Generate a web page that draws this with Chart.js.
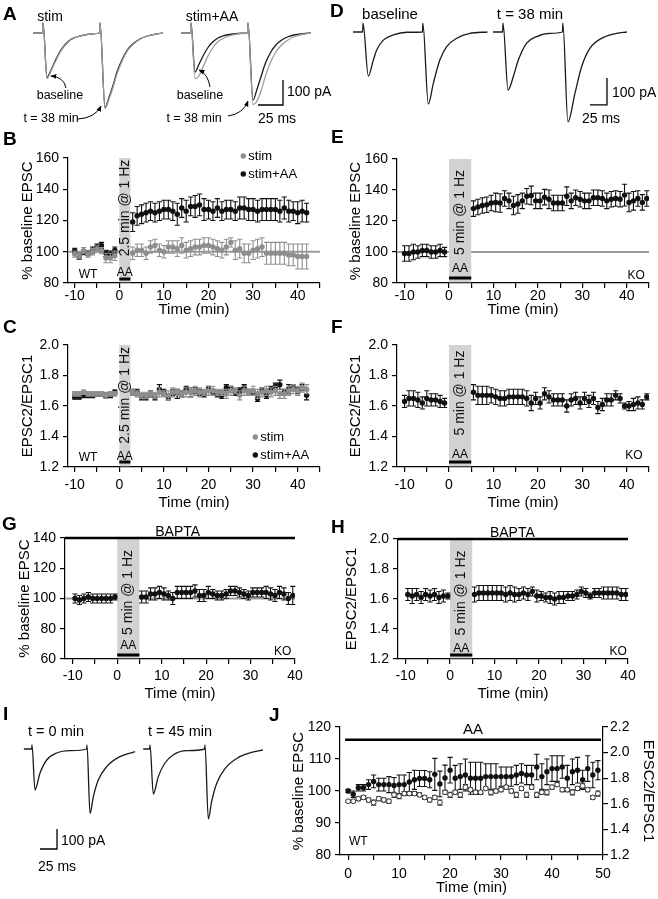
<!DOCTYPE html>
<html><head><meta charset="utf-8"><title>Figure</title>
<script src="https://cdn.jsdelivr.net/npm/chart.js@4.4.1/dist/chart.umd.min.js"></script>
<style>
html,body{margin:0;padding:0;background:#fff;}
#fig{position:relative;width:658px;height:899px;overflow:hidden;font-family:"Liberation Sans",Arial,Helvetica,sans-serif;color:#000;}
#charts canvas{position:absolute;}
.pl{position:absolute;font-weight:bold;font-size:19px;line-height:19px;}
.tx{position:absolute;line-height:1;white-space:nowrap;transform:translate(-50%,-50%);}
.tl{position:absolute;line-height:1;white-space:nowrap;transform:translate(0,-50%);}
svg{position:absolute;left:0;top:0;}
</style></head><body><div id="fig">
<div id="charts"></div>
<svg width="658" height="899">
<defs><marker id="ah" viewBox="0 0 10 10" refX="9" refY="5" markerWidth="6" markerHeight="6" orient="auto"><path d="M0,1 L10,5 L0,9 z" fill="#000"/></marker></defs>
<path d="M66,88 Q64,77 51,76" fill="none" stroke="#000" stroke-width="1" marker-end="url(#ah)"/>
<path d="M78,119 Q95,118 101,106" fill="none" stroke="#000" stroke-width="1" marker-end="url(#ah)"/>
<path d="M210,87 Q208,74 199,70" fill="none" stroke="#000" stroke-width="1" marker-end="url(#ah)"/>
<path d="M228,116 Q243,114 248,101" fill="none" stroke="#000" stroke-width="1" marker-end="url(#ah)"/>
</svg>
<div class="pl" style="left:3px;top:4px">A</div>
<div class="pl" style="left:330px;top:1px">D</div>
<div class="pl" style="left:3px;top:129px">B</div>
<div class="pl" style="left:331px;top:127px">E</div>
<div class="pl" style="left:3px;top:317px">C</div>
<div class="pl" style="left:331px;top:317px">F</div>
<div class="pl" style="left:2px;top:514px">G</div>
<div class="pl" style="left:331px;top:517px">H</div>
<div class="pl" style="left:3px;top:704px">I</div>
<div class="pl" style="left:269px;top:705px">J</div>

<div class="tx" style="left:50px;top:16px;font-size:14px">stim</div>
<div class="tx" style="left:212px;top:16px;font-size:14px">stim+AA</div>
<div class="tx" style="left:60px;top:95px;font-size:12.5px">baseline</div>
<div class="tx" style="left:51px;top:118px;font-size:12.5px">t = 38 min</div>
<div class="tx" style="left:200px;top:95px;font-size:12.5px">baseline</div>
<div class="tx" style="left:194px;top:118px;font-size:12.5px">t = 38 min</div>
<div class="tl" style="left:287px;top:91px;font-size:14px">100 pA</div>
<div class="tx" style="left:277px;top:118px;font-size:14px">25 ms</div>

<div class="tx" style="left:390px;top:13px;font-size:15px">baseline</div>
<div class="tx" style="left:530px;top:13px;font-size:15px">t = 38 min</div>
<div class="tl" style="left:612px;top:92px;font-size:14px">100 pA</div>
<div class="tx" style="left:601px;top:118px;font-size:14px">25 ms</div>

<div class="tx" style="left:56px;top:731px;font-size:14.5px">t = 0 min</div>
<div class="tx" style="left:180px;top:731px;font-size:14.5px">t = 45 min</div>
<div class="tl" style="left:61px;top:840px;font-size:14px">100 pA</div>
<div class="tx" style="left:57px;top:866px;font-size:14px">25 ms</div>
</div>
<script>
// ================= DATA =================
// Panel B / C (WT): time points (min)
const bTime = [-10,-9,-8,-7,-6,-5,-4,-3,-2,-1,3,4,5,6,7,8,9,10,11,12,13,14,15,16,17,18,19,20,21,22,23,24,25,26,27,28,29,30,31,32,33,34,35,36,37,38,39,40,41,42];
const bStim = [98.5,97.4,100.7,98.5,100,101.8,100.7,96,96,97.4,
  99,101,101,99,103,104,101,100,103,103,
  102,104,101,102,103,103,104,104,103,102,
  101,103,106,101,102,99,99,101,102,103,
  99,99,99,99,99,98,98,97,97,97];
const bStimErr = [2,2,2,2,2,2,2,3,3,3,
  4,4,4,4,4,4,4,4,4,4, 5,5,5,5,5,5,5,5,5,5, 5,5,3,6,6,6,6,6,6,6, 7,7,7,7,7,7,7,8,8,8];
const bStimAA = [100.7,97,99.6,99,101,103,104,99,98.5,101,
  119,123,124,125,126,125,126,127,127,126,
  124,128,126,129,129,130,127,127,126,128,
  126,127,127,126,128,128,127,127,126,127,
  127,127,127,126,128,126,126,125,126,125];
const bStimAAErr = [1.5,2,1.5,1.5,2,2,2,2,2,2,
  6,6,6,6,6,6,6,6,6,6, 7,6,7,6,7,7,7,6,6,6, 6,6,6,6,7,7,7,7,7,7, 7,7,7,7,7,7,6,7,7,6];

const cTime = bTime;
const cStim = [1.68,1.68,1.69,1.68,1.68,1.68,1.68,1.67,1.68,1.68,
  1.69,1.68,1.67,1.67,1.68,1.67,1.69,1.68,1.67,1.69,
  1.69,1.68,1.69,1.69,1.70,1.69,1.69,1.70,1.70,1.69,
  1.69,1.68,1.70,1.70,1.67,1.70,1.69,1.70,1.68,1.69,
  1.70,1.69,1.70,1.68,1.68,1.70,1.71,1.70,1.72,1.71];
const cStimErr = [0.015,0.015,0.015,0.015,0.015,0.015,0.015,0.02,0.015,0.015,
  0.02,0.02,0.02,0.02,0.02,0.02,0.03,0.02,0.03,0.03, 0.02,0.02,0.03,0.03,0.03,0.03,0.02,0.03,0.03,0.02,
  0.02,0.03,0.03,0.02,0.03,0.03,0.02,0.03,0.03,0.03, 0.03,0.03,0.03,0.03,0.03,0.03,0.03,0.03,0.03,0.03];
const cStimAA = [1.66,1.66,1.67,1.67,1.67,1.68,1.68,1.67,1.67,1.69,
  1.69,1.69,1.66,1.66,1.68,1.66,1.71,1.69,1.66,1.69,
  1.68,1.68,1.71,1.69,1.70,1.69,1.68,1.71,1.69,1.68,
  1.67,1.72,1.71,1.69,1.70,1.72,1.69,1.69,1.65,1.70,
  1.67,1.71,1.73,1.74,1.69,1.71,1.72,1.70,1.72,1.67];
const cStimAAErr = [0.015,0.015,0.015,0.015,0.015,0.015,0.015,0.015,0.015,0.015,
  0.02,0.02,0.02,0.02,0.02,0.02,0.03,0.02,0.02,0.02, 0.03,0.02,0.02,0.03,0.02,0.02,0.02,0.02,0.02,0.02,
  0.02,0.02,0.02,0.02,0.02,0.02,0.02,0.02,0.02,0.02, 0.02,0.02,0.02,0.03,0.02,0.03,0.02,0.02,0.02,0.03];

// Panel E / F (KO)
const eTime = [-10,-9,-8,-7,-6,-5,-4,-3,-2,-1,
  5.5,6.5,7.5,8.5,9.5,10.5,11.5,12.5,13.5,14.5,15.5,16.5,17.5,18.5,19.5,20.5,21.5,22.5,23.5,24.5,
  25.5,26.5,27.5,28.5,29.5,30.5,31.5,32.5,33.5,34.5,35.5,36.5,37.5,38.5,39.5,40.5,41.5,42.5,43.5,44.5];
const eKO = [99,99,100,100,101,101,100,100,101,100,
  128,129,130,130.5,131.6,132,131.6,134.5,133,130,
  131,133,136,136.5,133,133,135.4,134,131.6,131.6,
  131.6,136,133,135,134,133,133,135,135,134.5,
  133,134,134.5,134,136.7,132,133,134.5,132,134.5];
const eKOErr = [5,5,5,4,4,4,4,4,4,3,
  5,5,5,5,5,6,6,5,5,6, 6,5,5,6,5,5,5,6,5,5, 5,6,5,5,5,5,5,5,5,5, 5,5,5,5,7,6,6,5,5,5];
const fTime = eTime;
const fKO = [1.63,1.65,1.65,1.64,1.62,1.65,1.64,1.64,1.63,1.62,
  1.69,1.67,1.67,1.67,1.67,1.66,1.65,1.65,1.66,1.66,
  1.66,1.66,1.65,1.62,1.65,1.62,1.68,1.66,1.64,1.64,
  1.64,1.60,1.64,1.65,1.62,1.65,1.63,1.65,1.59,1.61,
  1.64,1.64,1.67,1.65,1.60,1.60,1.61,1.62,1.61,1.66];
const fKOErr = [0.04,0.05,0.05,0.05,0.04,0.05,0.04,0.04,0.04,0.03,
  0.05,0.06,0.06,0.06,0.05,0.05,0.05,0.05,0.05,0.05, 0.05,0.05,0.05,0.05,0.04,0.04,0.04,0.04,0.04,0.04,
  0.04,0.04,0.04,0.04,0.04,0.04,0.04,0.04,0.04,0.04, 0.04,0.04,0.03,0.03,0.02,0.03,0.04,0.04,0.03,0.02];

// Panel G / H (KO + BAPTA)
const gTime = [-9.5,-8.5,-7.5,-6.5,-5.5,-4.5,-3.5,-2.5,-1.5,-0.5,
  5.5,6.5,7.5,8.5,9.5,10.5,11.5,12.5,13.5,14.5,15.5,16.5,17.5,18.5,19.5,20.5,21.5,22.5,23.5,24.5,
  25.5,26.5,27.5,28.5,29.5,30.5,31.5,32.5,33.5,34.5,35.5,36.5,37.5,38.5,39.5];
const gKO = [100,99,100,101,100,100,100,100,100,101,
  101,101,103,103,104,103,102,100,104,104,
  104,104,105,102,102,104,103,102,102,103,
  105,105,104,103,102,104,104,104,104,103,
  102,104,103,100,102];
const gKOErr = [3,3,3,3,3,3,3,3,3,2,
  4,4,4,4,4,4,3,4,4,4, 4,4,4,4,4,4,3,3,3,3, 3,3,3,3,3,3,3,3,4,4, 4,4,4,4,6];
const hTime = gTime;
const hKO = [1.63,1.62,1.63,1.61,1.63,1.62,1.63,1.61,1.62,1.62,
  1.63,1.64,1.64,1.64,1.64,1.64,1.64,1.63,1.64,1.63,
  1.63,1.64,1.63,1.65,1.62,1.62,1.61,1.61,1.60,1.61,
  1.61,1.62,1.62,1.63,1.65,1.64,1.62,1.64,1.64,1.64,
  1.64,1.64,1.64,1.63,1.63];
const hKOErr = [0.04,0.05,0.04,0.04,0.04,0.04,0.04,0.04,0.04,0.02,
  0.05,0.05,0.05,0.05,0.05,0.05,0.05,0.05,0.05,0.05, 0.04,0.04,0.04,0.03,0.04,0.03,0.03,0.04,0.04,0.04,
  0.04,0.03,0.03,0.03,0.03,0.03,0.02,0.03,0.03,0.04, 0.04,0.04,0.04,0.04,0.04];

// Panel J (WT, AA)
const jTime = [0,1,2,3,4,5,6,7,8,9,10,11,12,13,14,15,16,17,18,19,20,21,22,23,24,25,26,27,28,29,30,31,32,33,34,35,36,37,38,39,40,41,42,43,44,45,46,47,48,49];
const jEpsc = [100,99,101,101,102,103,102,102,102,101.7,
  102,102,102.8,103.5,103.9,103.9,103.5,105.2,102.2,104.1,
  106.5,104,104.5,105,104,104,104,104.5,104.5,104.5,
  104.5,104.5,104.5,105,105.5,105,105,107.5,104.5,106,
  107,107,107.5,104,106,106.5,103.5,107,105,106.5];
const jEpscErr = [0.5,1,1,1,1.5,2,2,2,2.5,2.5,
  3,3,3,3,2.5,2.5,2.5,5,4,4, 4,4,4,5,5,5,5,4,4,4,
  3,3,3,3,3,3,3,4,4,4, 4,4,3.5,4,4,4,3,4,4,3];
const jPpr = [1.62,1.62,1.64,1.65,1.63,1.61,1.64,1.63,1.62,1.67,
  1.66,1.68,1.68,1.68,1.67,1.65,1.63,1.65,1.61,1.69,
  1.67,1.69,1.67,1.73,1.71,1.69,1.69,1.72,1.69,1.70,
  1.71,1.73,1.70,1.67,1.72,1.67,1.73,1.67,1.69,1.69,
  1.73,1.75,1.71,1.71,1.69,1.72,1.74,1.71,1.65,1.68];
const jPprErr = [0.01,0.01,0.015,0.015,0.015,0.02,0.015,0.015,0.015,0.02,
  0.02,0.015,0.015,0.015,0.015,0.015,0.015,0.015,0.02,0.015, 0.02,0.015,0.02,0.02,0.015,0.015,0.01,0.01,0.02,0.015,
  0.015,0.015,0.015,0.02,0.015,0.02,0.015,0.02,0.015,0.02, 0.015,0.015,0.015,0.015,0.02,0.015,0.02,0.015,0.015,0.02];

// Tick values
const xTicks45 = [-10,-5,0,5,10,15,20,25,30,35,40,45];
const xTicks40 = [-10,-5,0,5,10,15,20,25,30,35,40];
const xTicksJ = [0,5,10,15,20,25,30,35,40,45,50];
const yTicksEpsc = [80,100,120,140,160];
const yTicksPpr = [1.2,1.4,1.6,1.8,2.0];
const yTicksEpscG = [60,80,100,120,140];
const yTicksJL = [80,90,100,110,120];
const yTicksJR = [1.2,1.4,1.6,1.8,2.0,2.2];

// Example traces (time in ms from first stimulus, current in pA)
const aT = [-10,-0.5,0,4,8,12,17,22,27,32,37,44,50,56.5,57,62,66,70,74,79,84,90,97,104,112,120];
const aStimBase = [0,0,40,-178,-148,-113,-74,-47,-28,-18,-12,-6,-3,0,40,-298,-258,-210,-156,-107,-70,-43,-24,-12,-5,0];
const aStim38  = [0,0,40,-182,-152,-118,-78,-50,-30,-19,-12,-6,-3,0,40,-302,-265,-218,-164,-113,-74,-46,-25,-12,-5,0];
const aAABase  = [0,0,40,-156,-125,-92,-58,-35,-20,-12,-7,-3,-1,0,40,-268,-225,-175,-125,-82,-52,-30,-15,-7,-3,0];
const aAA38    = [0,0,40,-182,-172,-136,-92,-58,-35,-22,-13,-6,-2,0,40,-286,-272,-232,-178,-122,-82,-50,-28,-14,-5,0];
const dBaseT = [-14.7,-0.5,0,7.8,15.2,20.1,29.9,44.6,64.2,87.5,88,96,103.4,113,123,138,157,183];
const dBase  = [0,0,33,-163,-104,-67,-30,-11,-1,0,33,-267,-190,-104,-54,-23,-5,0];
const d38T = [-14.7,-0.5,0,7.4,15.2,22.5,34.8,49.5,69,87.5,88,95.5,105.8,115.7,128,147.6,167,182];
const d38  = [0,0,33,-215,-165,-104,-41,-17,-5,0,33,-333,-227,-128,-60,-20,-5,0];
const iT0 = [-12,-0.5,0,4.4,11.8,21.6,36.3,55.9,80.3,80.9,85.3,90.2,97.5,109.8,129.4,151.5];
const iV0 = [0,0,20,-205,-120,-55,-20,-8,0,20,-322,-238,-155,-88,-38,-13];
const iT45 = [-10,-0.5,0,4.9,12.2,22,33.8,54,80.3,80.9,85.8,90.7,98,110.3,130,152,166];
const iV45 = [0,0,20,-225,-138,-70,-30,-8.5,0,20,-350,-262,-172,-98,-42,-14,-5];
const scaleBarMs = 25, scaleBarPA = 100;

// ================= DRAWING =================
const FONT = '"Liberation Sans", Arial, Helvetica, sans-serif';
Chart.defaults.font.family = FONT;
Chart.defaults.font.size = 14;
Chart.defaults.color = '#000';
Chart.defaults.animation = false;
Chart.defaults.responsive = false;
Chart.defaults.events = [];
Chart.defaults.plugins.legend.display = false;
Chart.defaults.plugins.tooltip.enabled = false;

const BLACK = '#111', GRAY = '#8e8e8e';
const pts = (xs, ys) => xs.map((x, i) => ({x: x, y: ys[i]}));

function makeCanvas(l, t, w, h) {
  const c = document.createElement('canvas');
  c.width = w; c.height = h;
  c.style.left = l + 'px'; c.style.top = t + 'px';
  c.style.width = w + 'px'; c.style.height = h + 'px';
  document.getElementById('charts').appendChild(c);
  return c;
}

const errPlugin = {
  id: 'errbars',
  beforeDatasetDraw(chart, args) {
    const ds = chart.data.datasets[args.index];
    if (!ds.errors) return;
    const xs = chart.scales[args.meta.xAxisID], ys = chart.scales[args.meta.yAxisID];
    const ctx = chart.ctx;
    ctx.save();
    ctx.strokeStyle = ds.errColor; ctx.lineWidth = 1.1;
    ctx.beginPath();
    ds.data.forEach((p, i) => {
      const e = ds.errors[i]; if (!e) return;
      const x = xs.getPixelForValue(p.x);
      const yt = ys.getPixelForValue(p.y + e), yb = ys.getPixelForValue(p.y - e);
      ctx.moveTo(x, yt); ctx.lineTo(x, yb);
      ctx.moveTo(x - 2.6, yt); ctx.lineTo(x + 2.6, yt);
      ctx.moveTo(x - 2.6, yb); ctx.lineTo(x + 2.6, yb);
    });
    ctx.stroke();
    ctx.restore();
  }
};

function annotPlugin(o) {
  return {
    id: 'annot',
    beforeDatasetsDraw(chart) {
      const ctx = chart.ctx, ca = chart.chartArea, xs = chart.scales.x, ys = chart.scales.y;
      ctx.save();
      if (o.refLine != null) {
        const y = ys.getPixelForValue(o.refLine);
        ctx.strokeStyle = '#9a9a9a'; ctx.lineWidth = 2;
        ctx.beginPath(); ctx.moveTo(ca.left, y); ctx.lineTo(ca.right, y); ctx.stroke();
      }
      if (o.shade) {
        const x0 = xs.getPixelForValue(o.shade[0]), x1 = xs.getPixelForValue(o.shade[1]);
        ctx.fillStyle = '#d2d2d2';
        ctx.fillRect(x0, ca.top, x1 - x0, ca.bottom - ca.top - 0.7);
        ctx.save();
        ctx.translate((x0 + x1) / 2, ys.getPixelForValue(o.shadeTextY));
        ctx.rotate(-Math.PI / 2);
        ctx.fillStyle = '#111'; ctx.font = '14px ' + FONT;
        ctx.textAlign = 'center'; ctx.textBaseline = 'middle';
        ctx.fillText(o.shadeText, 0, 0);
        ctx.restore();
      }
      ctx.restore();
    },
    afterDatasetsDraw(chart) {
      const ctx = chart.ctx, ca = chart.chartArea, xs = chart.scales.x, ys = chart.scales.y;
      ctx.save();
      ctx.fillStyle = '#000'; ctx.strokeStyle = '#000';
      ctx.textAlign = 'center'; ctx.textBaseline = 'middle';
      if (o.shade && o.aa) {
        const x0 = xs.getPixelForValue(o.shade[0]), x1 = xs.getPixelForValue(o.shade[1]);
        ctx.lineWidth = 3;
        ctx.beginPath(); ctx.moveTo(x0, ca.bottom - o.aa.barDy); ctx.lineTo(x1, ca.bottom - o.aa.barDy); ctx.stroke();
        ctx.font = '12px ' + FONT;
        ctx.fillText('AA', (x0 + x1) / 2, ca.bottom - o.aa.textDy);
      }
      if (o.geno) {
        ctx.font = '12px ' + FONT;
        ctx.fillText(o.geno.text, xs.getPixelForValue(o.geno.x), ca.bottom - o.geno.dy);
      }
      if (o.topBar) {
        const b = o.topBar, y = ys.getPixelForValue(b.y);
        const x0 = xs.getPixelForValue(b.x0), x1 = xs.getPixelForValue(b.x1);
        ctx.lineWidth = 2.6;
        ctx.beginPath(); ctx.moveTo(x0, y); ctx.lineTo(x1, y); ctx.stroke();
        ctx.font = b.size + 'px ' + FONT;
        ctx.fillText(b.text, xs.getPixelForValue(b.textX), y - b.dy);
      }
      if (o.legend) {
        o.legend.forEach(it => {
          const px = xs.getPixelForValue(it.x), py = ys.getPixelForValue(it.y);
          ctx.fillStyle = it.color;
          ctx.beginPath(); ctx.arc(px, py, 2.7, 0, Math.PI * 2); ctx.fill();
          ctx.fillStyle = '#000'; ctx.textAlign = 'left'; ctx.font = '13px ' + FONT;
          ctx.fillText(it.text, px + 5, py);
        });
      }
      ctx.restore();
    }
  };
}

function xScale(min, max, ticks, pad, xH) {
  return {
    type: 'linear', position: 'bottom', min: min, max: max, bounds: 'data',
    afterBuildTicks: s => { s.ticks = ticks.map(v => ({value: v})); },
    afterFit: s => { s.height = xH; },
    ticks: { autoSkip: false, maxRotation: 0, minRotation: 0, padding: pad, font: {size: 14}, color: '#000',
      callback: v => (Math.abs(v % 10) < 1e-9 ? String(v) : '') },
    grid: { drawOnChartArea: false, drawTicks: true, tickLength: 5, color: '#000', lineWidth: 1.2 },
    border: { display: true, color: '#000', width: 1.2 },
    title: { display: true, text: 'Time (min)', font: {size: 15}, color: '#000', padding: {top: 0, bottom: 0} }
  };
}
function yScale(min, max, ticks, title, titlePad, width, pos, dec) {
  return {
    type: 'linear', position: pos, min: min, max: max, bounds: 'data',
    afterBuildTicks: s => { s.ticks = ticks.map(v => ({value: v})); },
    afterFit: s => { s.width = width; },
    ticks: { autoSkip: false, padding: pos === 'left' ? 4 : 2, font: {size: 14}, color: '#000',
      callback: v => (dec ? Number(v).toFixed(dec) : String(v)) },
    grid: { drawOnChartArea: false, drawTicks: true, tickLength: 5, color: '#000', lineWidth: 1.2 },
    border: { display: true, color: '#000', width: 1.2 },
    title: { display: true, text: title, font: {size: 15}, color: '#000', padding: {top: titlePad, bottom: 0} }
  };
}

function dotSet(xs, ys, errs, color, extra) {
  return Object.assign({
    data: pts(xs, ys), errors: errs, errColor: color, showLine: false,
    pointRadius: 2.7, pointBackgroundColor: color, pointBorderColor: color, pointBorderWidth: 0
  }, extra || {});
}

function timePanel(g, datasets, xr, xTicks, yr, yTicks, yTitle, dec, annot, right) {
  const topPad = g.topPad || 25, botPad = 2;
  const yW = g.axisX - g.canvasLeft;
  const rightW = right ? right.width : g.rightPad;
  const w = g.right + rightW - g.canvasLeft;
  const h = topPad + (g.bottom - g.top) + g.xH + botPad;
  const cv = makeCanvas(g.canvasLeft, g.top - topPad, w, h);
  const scales = {
    x: xScale(xr[0], xr[1], xTicks, g.xPad, g.xH),
    y: yScale(yr[0], yr[1], yTicks, yTitle, g.yTitlePad, yW, 'left', dec)
  };
  if (right) scales.y2 = yScale(right.min, right.max, right.ticks, right.title, 0, right.width, 'right', 1);
  return new Chart(cv, {
    type: 'scatter',
    data: { datasets: datasets },
    options: {
      devicePixelRatio: 1,
      layout: { padding: { top: topPad, bottom: botPad, left: 0, right: right ? 0 : g.rightPad } },
      scales: scales
    },
    plugins: [annotPlugin(annot), errPlugin]
  });
}

// ---- B ----
timePanel({canvasLeft: 0, axisX: 68, top: 158, bottom: 283, right: 320, rightPad: 12, xH: 36, xPad: 0, yTitlePad: 19},
  [dotSet(bTime, bStim, bStimErr, GRAY), dotSet(bTime, bStimAA, bStimAAErr, BLACK)],
  [-11.5, 45], xTicks45, [80, 160], yTicksEpsc, '% baseline EPSC', 0,
  { refLine: 100, shade: [0, 2.5], shadeText: '2.5 min @ 1 Hz', shadeTextY: 128,
    aa: {barDy: 4, textDy: 10}, geno: {text: 'WT', x: -7, dy: 8},
    legend: [{text: 'stim', color: GRAY, x: 27.8, y: 161.3}, {text: 'stim+AA', color: BLACK, x: 27.8, y: 149.8}] });

// ---- C ----
timePanel({canvasLeft: 0, axisX: 68, top: 345, bottom: 467, right: 320, rightPad: 12, xH: 45, xPad: 5, yTitlePad: 19},
  [dotSet(cTime, cStim, cStimErr, GRAY), dotSet(cTime, cStimAA, cStimAAErr, BLACK)],
  [-11.5, 45], xTicks45, [1.2, 2.0], yTicksPpr, 'EPSC2/EPSC1', 1,
  { shade: [0, 2.5], shadeText: '2.5 min @ 1 Hz', shadeTextY: 1.67,
    aa: {barDy: 5, textDy: 10}, geno: {text: 'WT', x: -7, dy: 9},
    legend: [{text: 'stim', color: GRAY, x: 30.5, y: 1.397}, {text: 'stim+AA', color: BLACK, x: 30.5, y: 1.279}] });

// ---- E ----
timePanel({canvasLeft: 330, axisX: 397, top: 159, bottom: 283, right: 649, rightPad: 8, xH: 36, xPad: 0, yTitlePad: 17},
  [dotSet(eTime, eKO, eKOErr, BLACK)],
  [-11.7, 45], xTicks45, [80, 160], yTicksEpsc, '% baseline EPSC', 0,
  { refLine: 100, shade: [0, 5], shadeText: '5 min @ 1 Hz', shadeTextY: 125.5,
    aa: {barDy: 5, textDy: 14}, geno: {text: 'KO', x: 42.1, dy: 7} });

// ---- F ----
timePanel({canvasLeft: 330, axisX: 397, top: 345, bottom: 467, right: 649, rightPad: 8, xH: 45, xPad: 5, yTitlePad: 17},
  [dotSet(fTime, fKO, fKOErr, BLACK)],
  [-11.7, 45], xTicks45, [1.2, 2.0], yTicksPpr, 'EPSC2/EPSC1', 1,
  { shade: [0, 5], shadeText: '5 min @ 1 Hz', shadeTextY: 1.685,
    aa: {barDy: 5, textDy: 12}, geno: {text: 'KO', x: 41.6, dy: 11} });

// ---- G ----
timePanel({canvasLeft: 0, axisX: 65, top: 538, bottom: 659, right: 295, rightPad: 14, xH: 44, xPad: 4, yTitlePad: 16},
  [dotSet(gTime, gKO, gKOErr, BLACK)],
  [-11.75, 40], xTicks40, [60, 140], yTicksEpscG, '% baseline EPSC', 0,
  { refLine: 100, shade: [0, 5], shadeText: '5 min @ 1 Hz', shadeTextY: 104,
    aa: {barDy: 4, textDy: 13}, geno: {text: 'KO', x: 37.2, dy: 7},
    topBar: {y: 140, x0: -11.75, x1: 40, text: 'BAPTA', textX: 13.6, dy: 6, size: 14} });

// ---- H ----
timePanel({canvasLeft: 330, axisX: 398, top: 539, bottom: 659, right: 628, rightPad: 14, xH: 44, xPad: 4, yTitlePad: 13},
  [dotSet(hTime, hKO, hKOErr, BLACK)],
  [-11.7, 40], xTicks40, [1.2, 2.0], yTicksPpr, 'EPSC2/EPSC1', 1,
  { shade: [0, 5], shadeText: '5 min @ 1 Hz', shadeTextY: 1.64,
    aa: {barDy: 4, textDy: 10}, geno: {text: 'KO', x: 37.8, dy: 7},
    topBar: {y: 2.0, x0: -11.7, x1: 40, text: 'BAPTA', textX: 14, dy: 6, size: 14} });

// ---- J ----
timePanel({canvasLeft: 250, axisX: 340, top: 727, bottom: 855, right: 603, xH: 42, xPad: 6, yTitlePad: 40, topPad: 27},
  [dotSet(jTime, jPpr, jPprErr, '#333', {yAxisID: 'y2', pointRadius: 2.4, pointBackgroundColor: '#fff', pointBorderColor: '#333', pointBorderWidth: 1}),
   dotSet(jTime, jEpsc, jEpscErr, BLACK)],
  [-1.6, 50], xTicksJ, [80, 120], yTicksJL, '% baseline EPSC', 0,
  { geno: {text: 'WT', x: 2, dy: 13},
    topBar: {y: 116, x0: -0.6, x1: 49.6, text: 'AA', textX: 24.5, dy: 10, size: 15} },
  {min: 1.2, max: 2.2, ticks: yTicksJR, title: 'EPSC2/EPSC1', width: 54});

// ---- traces ----
function scaleBarPlugin(b) {
  return {
    id: 'sbar',
    afterDatasetsDraw(chart) {
      const xs = chart.scales.x, ys = chart.scales.y, ctx = chart.ctx;
      const x = xs.getPixelForValue(b.x), y = ys.getPixelForValue(b.y);
      const xl = xs.getPixelForValue(b.x - scaleBarMs), yt = ys.getPixelForValue(b.y + scaleBarPA);
      ctx.save(); ctx.strokeStyle = '#000'; ctx.lineWidth = 1.3;
      ctx.beginPath(); ctx.moveTo(x, yt); ctx.lineTo(x, y); ctx.lineTo(xl, y); ctx.stroke();
      ctx.restore();
    }
  };
}
function traceSet(t, v, color) {
  return { data: pts(t, v), showLine: true, pointRadius: 0, borderColor: color, borderWidth: 1.3,
    cubicInterpolationMode: 'monotone', fill: false, clip: false };
}
function traceChart(l, t, w, h, xr, yr, datasets, bar) {
  const cv = makeCanvas(l, t, w, h);
  return new Chart(cv, {
    type: 'scatter',
    data: { datasets: datasets },
    options: {
      devicePixelRatio: 1, layout: { padding: 0 },
      scales: { x: {type: 'linear', display: false, min: xr[0], max: xr[1]},
                y: {type: 'linear', display: false, min: yr[0], max: yr[1]} }
    },
    plugins: bar ? [scaleBarPlugin(bar)] : []
  });
}
const TR = '#1a1a1a', TG = '#9c9c9c';
traceChart(25, 15, 150, 105, [-18, 132], [-348, 72],
  [traceSet(aT, aStim38, TG), traceSet(aT, aStimBase, TR)]);
traceChart(175, 15, 140, 105, [-16, 124], [-348, 72],
  [traceSet(aT, aAA38, TG), traceSet(aT, aAABase, TR)], {x: 92, y: -288});
traceChart(345, 10, 150, 125, [-26.47, 194.1], [-381.5, 81.5],
  [traceSet(dBaseT, dBase, TR)]);
traceChart(485, 10, 150, 125, [-26.47, 194.1], [-381.5, 81.5],
  [traceSet(d38T, d38, TR)], {x: 152.9, y: -270});
traceChart(15, 730, 125, 130, [-25, 158.8], [-555, 95],
  [traceSet(iT0, iV0, TR)], {x: 36.8, y: -500});
traceChart(135, 730, 135, 130, [-22.06, 176.5], [-555, 95],
  [traceSet(iT45, iV45, TR)]);
</script></body></html>
